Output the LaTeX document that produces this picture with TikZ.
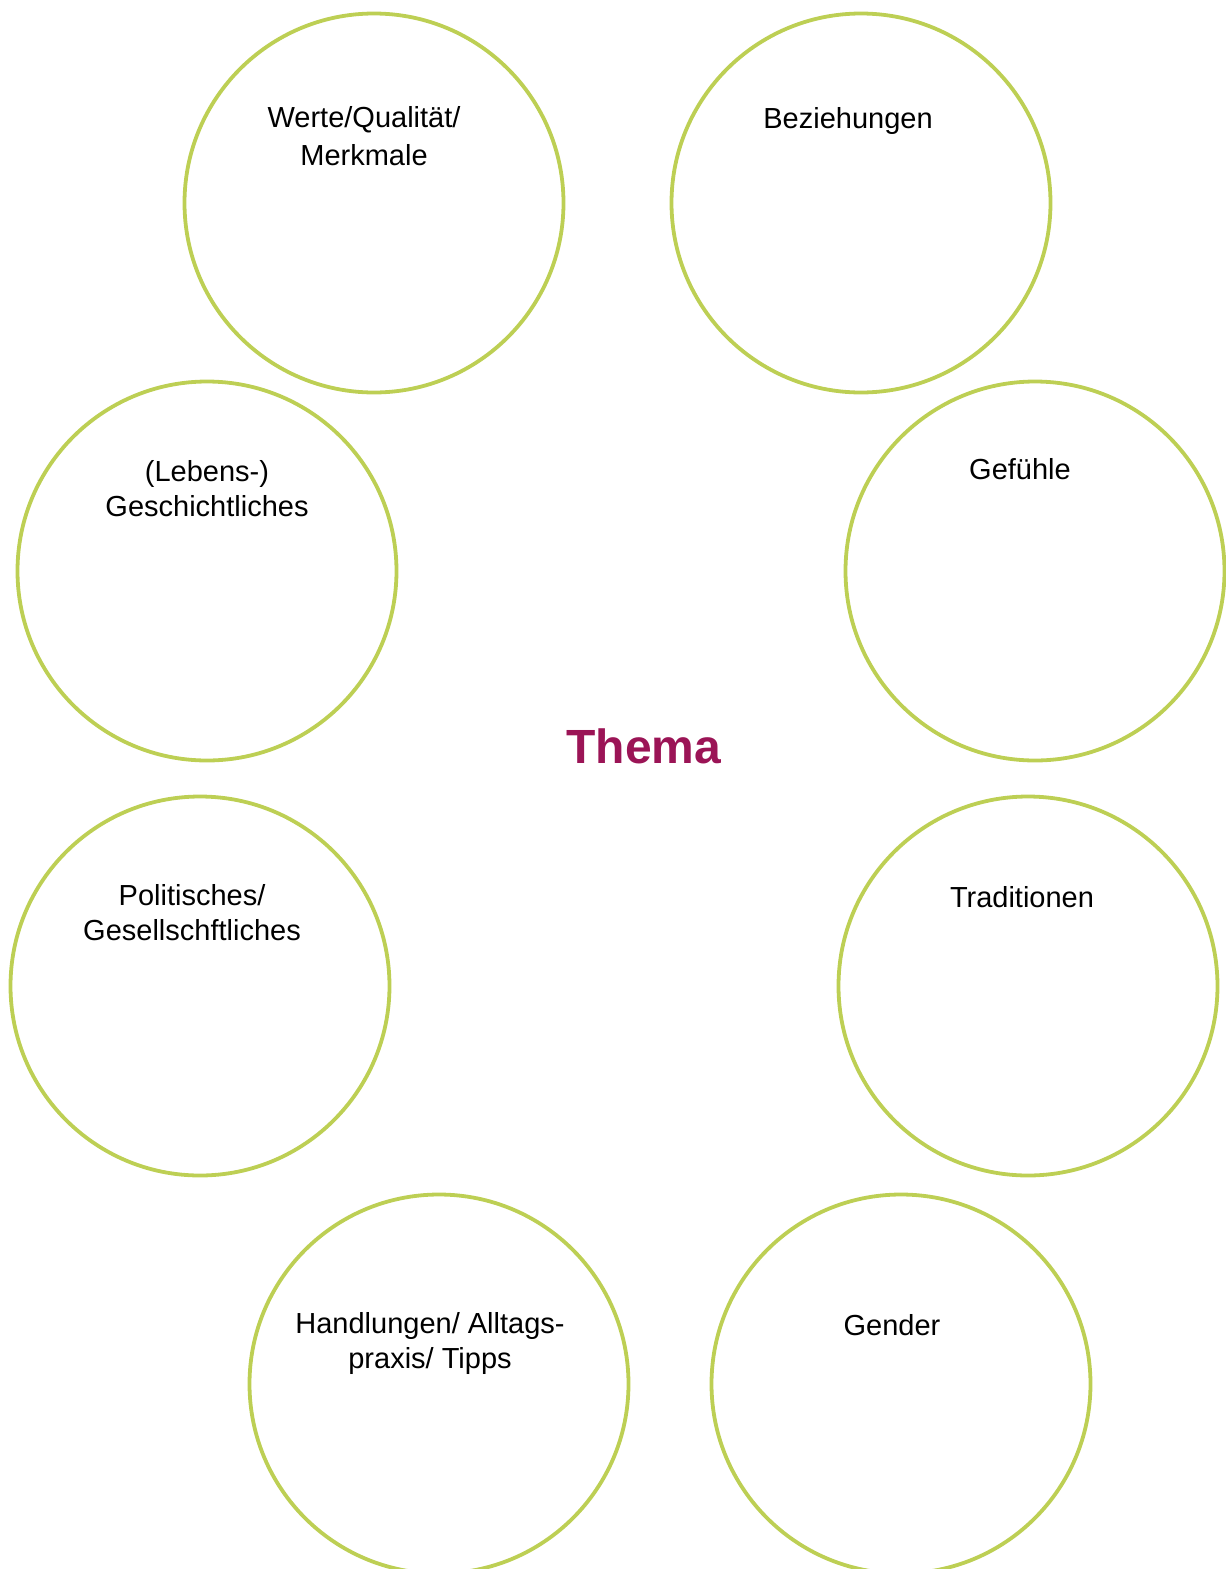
\documentclass[tikz,border=0pt]{standalone}
\usepackage{fontspec}
\setmainfont{Liberation Sans}
\definecolor{ringgreen}{RGB}{189,207,84}
\definecolor{themapink}{RGB}{155,20,86}
\tikzset{
  ring/.style={draw=ringgreen, line width=3.8pt, circle, minimum size=379pt, inner sep=0pt},
  lbl/.style={align=center, inner sep=0pt, anchor=base, font=\fontsize{29}{35}\selectfont, text=black},
}
\begin{document}
\begin{tikzpicture}[x=1pt,y=-1pt]
\useasboundingbox (0,0) rectangle (1226,1569);
\begin{scope}
\clip (0,0) rectangle (1226,1569);
\node[ring] (c1) at (374,203) {};
\node[ring] (c2) at (861,203) {};
\node[ring] (c3) at (207,571) {};
\node[ring] (c4) at (1035,571) {};
\node[ring] (c5) at (200,986) {};
\node[ring] (c6) at (1028,986) {};
\node[ring] (c7) at (439,1384) {};
\node[ring] (c8) at (901,1384) {};
\end{scope}
\node[lbl] (t1) at (364,165) {Werte/Qualität/\\[3pt]Merkmale};
\node[lbl] (t2) at (848,128) {Beziehungen};
\node[lbl] (t3) at (207,516) {(Lebens-)\\Geschichtliches};
\node[lbl] (t4) at (1020,479) {Gefühle};
\node[lbl] (t5) at (192,940) {Politisches/\\Gesellschftliches};
\node[lbl] (t6) at (1022,907) {Traditionen};
\node[lbl] (t7) at (430,1368) {Handlungen/ Alltags-\\praxis/ Tipps};
\node[lbl] (t8) at (892,1335) {Gender};
\node[font=\fontsize{48}{50}\selectfont\bfseries, text=themapink, inner sep=0pt, anchor=base] (thema) at (644,763) {Thema};
\end{tikzpicture}
\end{document}
